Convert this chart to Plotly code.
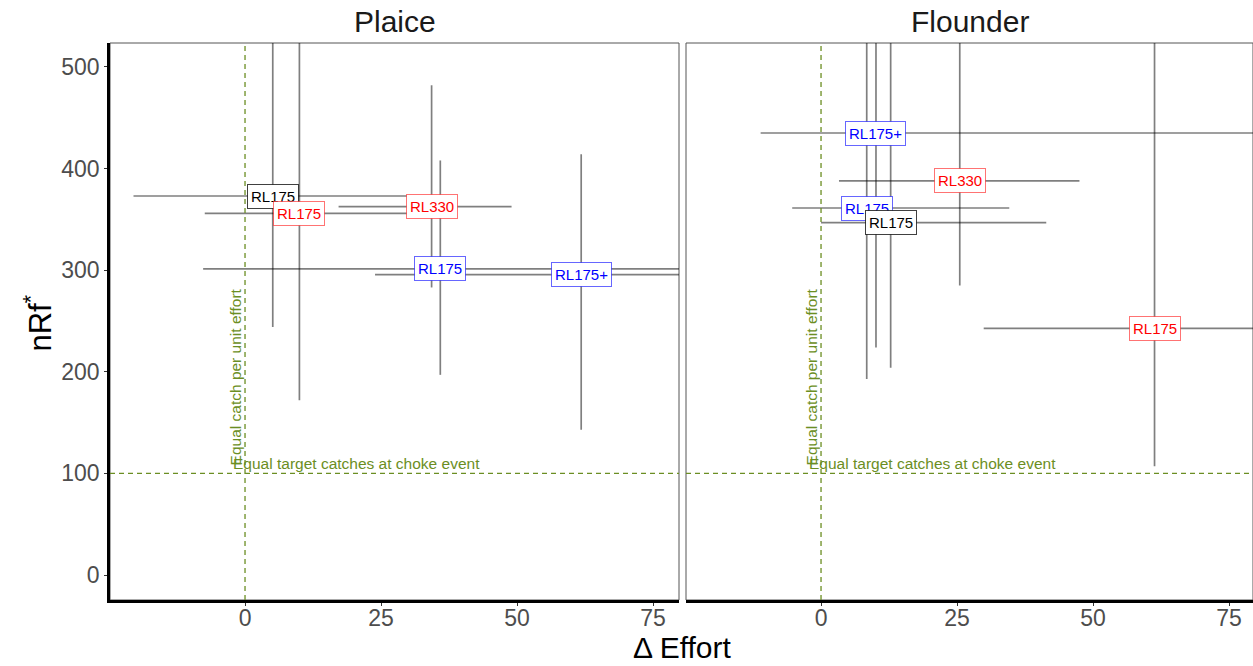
import plotly.graph_objects as go

# ---------------- data ----------------
panels = ["Plaice", "Flounder"]

plaice_labels = ["RL175", "RL175", "RL330", "RL175", "RL175+"]
plaice_colors = ["black", "red", "red", "blue", "blue"]
plaice_x = [5.1, 10.0, 34.3, 35.9, 61.8]
plaice_x_lo = [-20.5, -7.4, 17.2, -7.7, 23.9]
plaice_x_hi = [33.0, 36.0, 49.0, 90.0, 100.0]
plaice_y = [373.0, 356.0, 362.6, 301.2, 295.6]
plaice_y_lo = [244.0, 172.0, 283.0, 197.0, 143.0]
plaice_y_hi = [600.0, 560.0, 482.0, 408.0, 414.0]

flounder_labels = ["RL175+", "RL330", "RL175", "RL175", "RL175"]
flounder_colors = ["blue", "red", "blue", "black", "red"]
flounder_x = [10.1, 25.5, 8.4, 12.8, 61.3]
flounder_x_lo = [-11.1, 3.3, -5.3, 0.0, 29.9]
flounder_x_hi = [95.0, 47.5, 34.6, 41.4, 95.0]
flounder_y = [435.0, 388.0, 361.2, 346.8, 242.8]
flounder_y_lo = [224.0, 285.0, 193.0, 204.0, 107.0]
flounder_y_hi = [600.0, 560.0, 560.0, 560.0, 600.0]

x_ticks = [0, 25, 50, 75]
y_ticks = [0, 100, 200, 300, 400, 500]
ref_effort = 0
ref_nrf = 100
vline_text = "Equal catch per unit effort"
hline_text = "Equal target catches at choke event"

# ---------------- styling ----------------
FONT = "Liberation Sans, Arial, sans-serif"
REF_COLOR = "#6B8E23"
BAR_COLOR = "rgba(0,0,0,0.5)"
LABEL_STYLE = {
    "black": ("#000000", "rgba(0,0,0,0.75)"),
    "red": ("#FF0000", "rgba(255,0,0,0.55)"),
    "blue": ("#0000FF", "rgba(0,0,255,0.6)"),
}

fig = go.Figure()

data = [
    (plaice_labels, plaice_colors, plaice_x, plaice_x_lo, plaice_x_hi, plaice_y, plaice_y_lo, plaice_y_hi),
    (flounder_labels, flounder_colors, flounder_x, flounder_x_lo, flounder_x_hi, flounder_y, flounder_y_lo, flounder_y_hi),
]

annotations = []
shapes = []
for i, (labs, cols, xs, xlo, xhi, ys, ylo, yhi) in enumerate(data):
    xa = "x" if i == 0 else "x2"
    ya = "y" if i == 0 else "y2"
    fig.add_trace(go.Scatter(
        x=xs, y=ys, mode="markers",
        marker=dict(size=1, opacity=0),
        error_x=dict(type="data", symmetric=False,
                     array=[h - c for h, c in zip(xhi, xs)],
                     arrayminus=[c - l for l, c in zip(xlo, xs)],
                     color=BAR_COLOR, thickness=1.7, width=0),
        error_y=dict(type="data", symmetric=False,
                     array=[h - c for h, c in zip(yhi, ys)],
                     arrayminus=[c - l for l, c in zip(ylo, ys)],
                     color=BAR_COLOR, thickness=1.7, width=0),
        xaxis=xa, yaxis=ya, showlegend=False, hoverinfo="skip",
    ))
    # reference lines
    shapes.append(dict(type="line", xref=xa, yref=ya + " domain", x0=ref_effort, x1=ref_effort,
                       y0=0, y1=1, line=dict(color=REF_COLOR, width=1.3, dash="5px,4px"), layer="above"))
    shapes.append(dict(type="line", xref=xa + " domain", yref=ya, x0=0, x1=1,
                       y0=ref_nrf, y1=ref_nrf, line=dict(color=REF_COLOR, width=1.3, dash="5px,4px"), layer="above"))
    # panel border
    shapes.append(dict(type="rect", xref=xa + " domain", yref=ya + " domain", x0=0, x1=1, y0=0, y1=1,
                       line=dict(color="#555555", width=1), layer="below"))
    # reference texts
    annotations.append(dict(xref=xa, yref=ya, x=ref_effort, y=ref_nrf, text=vline_text,
                            textangle=-90, showarrow=False, xanchor="right", yanchor="bottom",
                            xshift=1, yshift=6, font=dict(family=FONT, size=15.5, color=REF_COLOR)))
    annotations.append(dict(xref=xa, yref=ya, x=ref_effort, y=ref_nrf, text=hline_text,
                            showarrow=False, xanchor="left", yanchor="bottom",
                            xshift=-14, yshift=-1, font=dict(family=FONT, size=15.5, color=REF_COLOR)))
    # point labels
    for lab, col, xv, yv in zip(labs, cols, xs, ys):
        fc, bc = LABEL_STYLE[col]
        annotations.append(dict(xref=xa, yref=ya, x=xv, y=yv, text=lab, showarrow=False,
                                font=dict(family=FONT, size=15, color=fc),
                                bgcolor="white", bordercolor=bc, borderwidth=1, borderpad=3))
    # facet title
    annotations.append(dict(xref=xa + " domain", yref="paper", x=0.5, y=0.968, text=panels[i],
                            showarrow=False, xanchor="center", yanchor="middle",
                            font=dict(family=FONT, size=30, color="#1A1A1A")))

# axis titles
annotations.append(dict(xref="paper", yref="paper", x=0.545, y=0.028, text="\u0394 Effort",
                        showarrow=False, xanchor="center", yanchor="middle",
                        font=dict(family=FONT, size=30, color="black")))
annotations.append(dict(xref="paper", yref="paper", x=0.03, y=0.515, text="nRf<sup>*</sup>",
                        textangle=-90, showarrow=False, xanchor="center", yanchor="middle",
                        font=dict(family=FONT, size=31, color="black")))

tick_font = dict(family=FONT, size=23, color="#4D4D4D")
x_common = dict(tickvals=x_ticks, ticks="outside", ticklen=3, tickcolor="#333333", tickwidth=1,
                tickfont=tick_font, showgrid=False, zeroline=False, showline=True,
                linecolor="black", linewidth=2.5, ticklabelstandoff=-7)
y_range = [-24.6, 523.6]
y_dom = [66 / 666, 623 / 666]

fig.update_layout(
    width=1253, height=666,
    margin=dict(l=0, r=0, t=0, b=0),
    paper_bgcolor="white", plot_bgcolor="white",
    xaxis=dict(domain=[110 / 1253, 679 / 1253], range=[-24.82, 79.78], anchor="y", **x_common),
    xaxis2=dict(domain=[686 / 1253, 1.0], range=[-24.82, 79.4], anchor="y2", **x_common),
    yaxis=dict(domain=y_dom, range=y_range, tickvals=y_ticks, ticks="outside", ticklen=3,
               tickcolor="#333333", tickfont=tick_font, showgrid=False, zeroline=False,
               showline=True, linecolor="black", linewidth=2.5, anchor="x"),
    yaxis2=dict(domain=y_dom, range=y_range, showticklabels=False, ticks="", showgrid=False,
                zeroline=False, showline=False, anchor="x2"),
    annotations=annotations,
    shapes=shapes,
)

fig.write_html("out.html")
